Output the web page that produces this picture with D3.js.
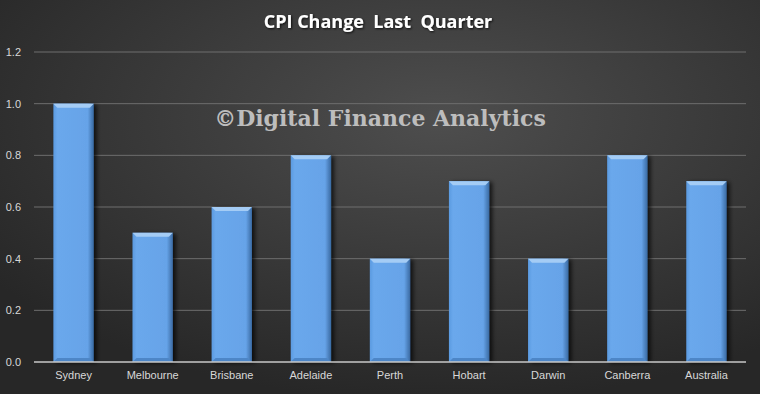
<!DOCTYPE html>
<html>
<head>
<meta charset="utf-8">
<script src="https://cdn.jsdelivr.net/npm/d3@7"></script>
<style>
  html, body { margin: 0; padding: 0; background: #333; }
  svg { display: block; }
</style>
</head>
<body>
<div id="chart"></div>
<script>
// data
var cities = ["Sydney", "Melbourne", "Brisbane", "Adelaide", "Perth", "Hobart", "Darwin", "Canberra", "Australia"];
var cpiChange = [1.0, 0.5, 0.6, 0.8, 0.4, 0.7, 0.4, 0.8, 0.7];
var yTicks = [0, 0.2, 0.4, 0.6, 0.8, 1.0, 1.2];
var chartTitle = "CPI Change\u00a0 Last\u00a0 Quarter";
var watermark = "\u00a9Digital Finance Analytics";

var width = 760, height = 394;
var margin = {top: 52, right: 14, bottom: 32, left: 34};

var svg = d3.select("#chart").append("svg")
    .attr("width", width)
    .attr("height", height);

var defs = svg.append("defs");

var bg = defs.append("radialGradient").attr("id", "bg")
    .attr("cx", "58%").attr("cy", "30%").attr("r", "72%");
bg.append("stop").attr("offset", "0%").attr("stop-color", "#4e4e4e");
bg.append("stop").attr("offset", "100%").attr("stop-color", "#272727");

var barGrad = defs.append("linearGradient").attr("id", "barFill")
    .attr("x1", "0%").attr("x2", "100%").attr("y1", "0%").attr("y2", "0%");
barGrad.append("stop").attr("offset", "0%").attr("stop-color", "#5b9ae0");
barGrad.append("stop").attr("offset", "10%").attr("stop-color", "#6aa8ec");
barGrad.append("stop").attr("offset", "85%").attr("stop-color", "#66a3e8");
barGrad.append("stop").attr("offset", "100%").attr("stop-color", "#3a6aa2");

var shadow = defs.append("filter").attr("id", "shadow")
    .attr("x", "-20%").attr("y", "-10%").attr("width", "150%").attr("height", "130%");
shadow.append("feDropShadow").attr("dx", 3).attr("dy", 1).attr("stdDeviation", 2)
    .attr("flood-color", "#000").attr("flood-opacity", 0.7);

var titleShadow = defs.append("filter").attr("id", "tshadow");
titleShadow.append("feDropShadow").attr("dx", 1).attr("dy", 1).attr("stdDeviation", 0.8)
    .attr("flood-color", "#000").attr("flood-opacity", 0.8);

svg.append("rect").attr("width", width).attr("height", height).attr("fill", "url(#bg)");

var x = d3.scaleBand()
    .domain(cities)
    .range([margin.left, width - margin.right])
    .paddingInner(0.49)
    .paddingOuter(0.245);

var y = d3.scaleLinear()
    .domain([0, 1.2])
    .range([height - margin.bottom, margin.top]);

// gridlines
svg.append("g").selectAll("line")
    .data(yTicks.filter(function (d) { return d > 0; }))
    .enter().append("line")
    .attr("x1", margin.left).attr("x2", width - margin.right)
    .attr("y1", function (d) { return y(d); })
    .attr("y2", function (d) { return y(d); })
    .attr("stroke", "#6e6e6e").attr("stroke-width", 1);

// y axis labels
var yAxis = svg.append("g")
    .attr("transform", "translate(" + (margin.left - 10) + ",0)")
    .call(d3.axisLeft(y).tickValues(yTicks).tickFormat(d3.format(".1f")).tickSize(0));
yAxis.select(".domain").remove();
yAxis.selectAll("text")
    .attr("fill", "#d8d8d8")
    .style("font-family", "'Liberation Sans', Arial, sans-serif")
    .style("font-size", "11px");

// watermark
svg.append("text")
    .attr("x", 380).attr("y", 126)
    .attr("text-anchor", "middle")
    .attr("fill", "#bdbdbd")
    .style("font-family", "'DejaVu Serif', serif")
    .style("font-weight", "bold")
    .style("font-size", "22px")
    .text(watermark);

// bars
var bars = svg.append("g").selectAll("g.bar")
    .data(cities.map(function (c, i) { return {city: c, value: cpiChange[i]}; }))
    .enter().append("g").attr("class", "bar");

var bev = 4;
bars.append("rect")
    .attr("x", function (d) { return x(d.city); })
    .attr("y", function (d) { return y(d.value); })
    .attr("width", x.bandwidth())
    .attr("height", function (d) { return y(0) - y(d.value); })
    .attr("fill", "url(#barFill)")
    .attr("filter", "url(#shadow)");

// top bevel
bars.append("path")
    .attr("d", function (d) {
        var x0 = x(d.city), x1 = x0 + x.bandwidth(), t = y(d.value);
        return "M" + x0 + "," + t + "L" + x1 + "," + t + "L" + (x1 - bev) + "," + (t + bev) +
            "L" + (x0 + bev) + "," + (t + bev) + "Z";
    })
    .attr("fill", "#a4ccf5");

// bottom bevel
bars.append("path")
    .attr("d", function (d) {
        var x0 = x(d.city), x1 = x0 + x.bandwidth(), b = y(0);
        return "M" + x0 + "," + b + "L" + x1 + "," + b + "L" + (x1 - bev) + "," + (b - bev) +
            "L" + (x0 + bev) + "," + (b - bev) + "Z";
    })
    .attr("fill", "#4d86c7");

// x axis line
svg.append("line")
    .attr("x1", margin.left).attr("x2", width - margin.right)
    .attr("y1", y(0)).attr("y2", y(0))
    .attr("stroke", "#c8c8c8").attr("stroke-width", 1.5);

var xAxis = svg.append("g")
    .attr("transform", "translate(0," + (y(0) + 6) + ")")
    .call(d3.axisBottom(x).tickSize(0));
xAxis.select(".domain").remove();
xAxis.selectAll("text")
    .attr("fill", "#d8d8d8")
    .style("font-family", "'Liberation Sans', Arial, sans-serif")
    .style("font-size", "11px");

// title
svg.append("text")
    .attr("x", 378).attr("y", 28)
    .attr("text-anchor", "middle")
    .attr("fill", "#ffffff")
    .attr("filter", "url(#tshadow)")
    .style("font-family", "'Open Sans', sans-serif")
    .style("font-weight", "bold")
    .style("font-size", "18px")
    .text(chartTitle);
</script>
</body>
</html>
